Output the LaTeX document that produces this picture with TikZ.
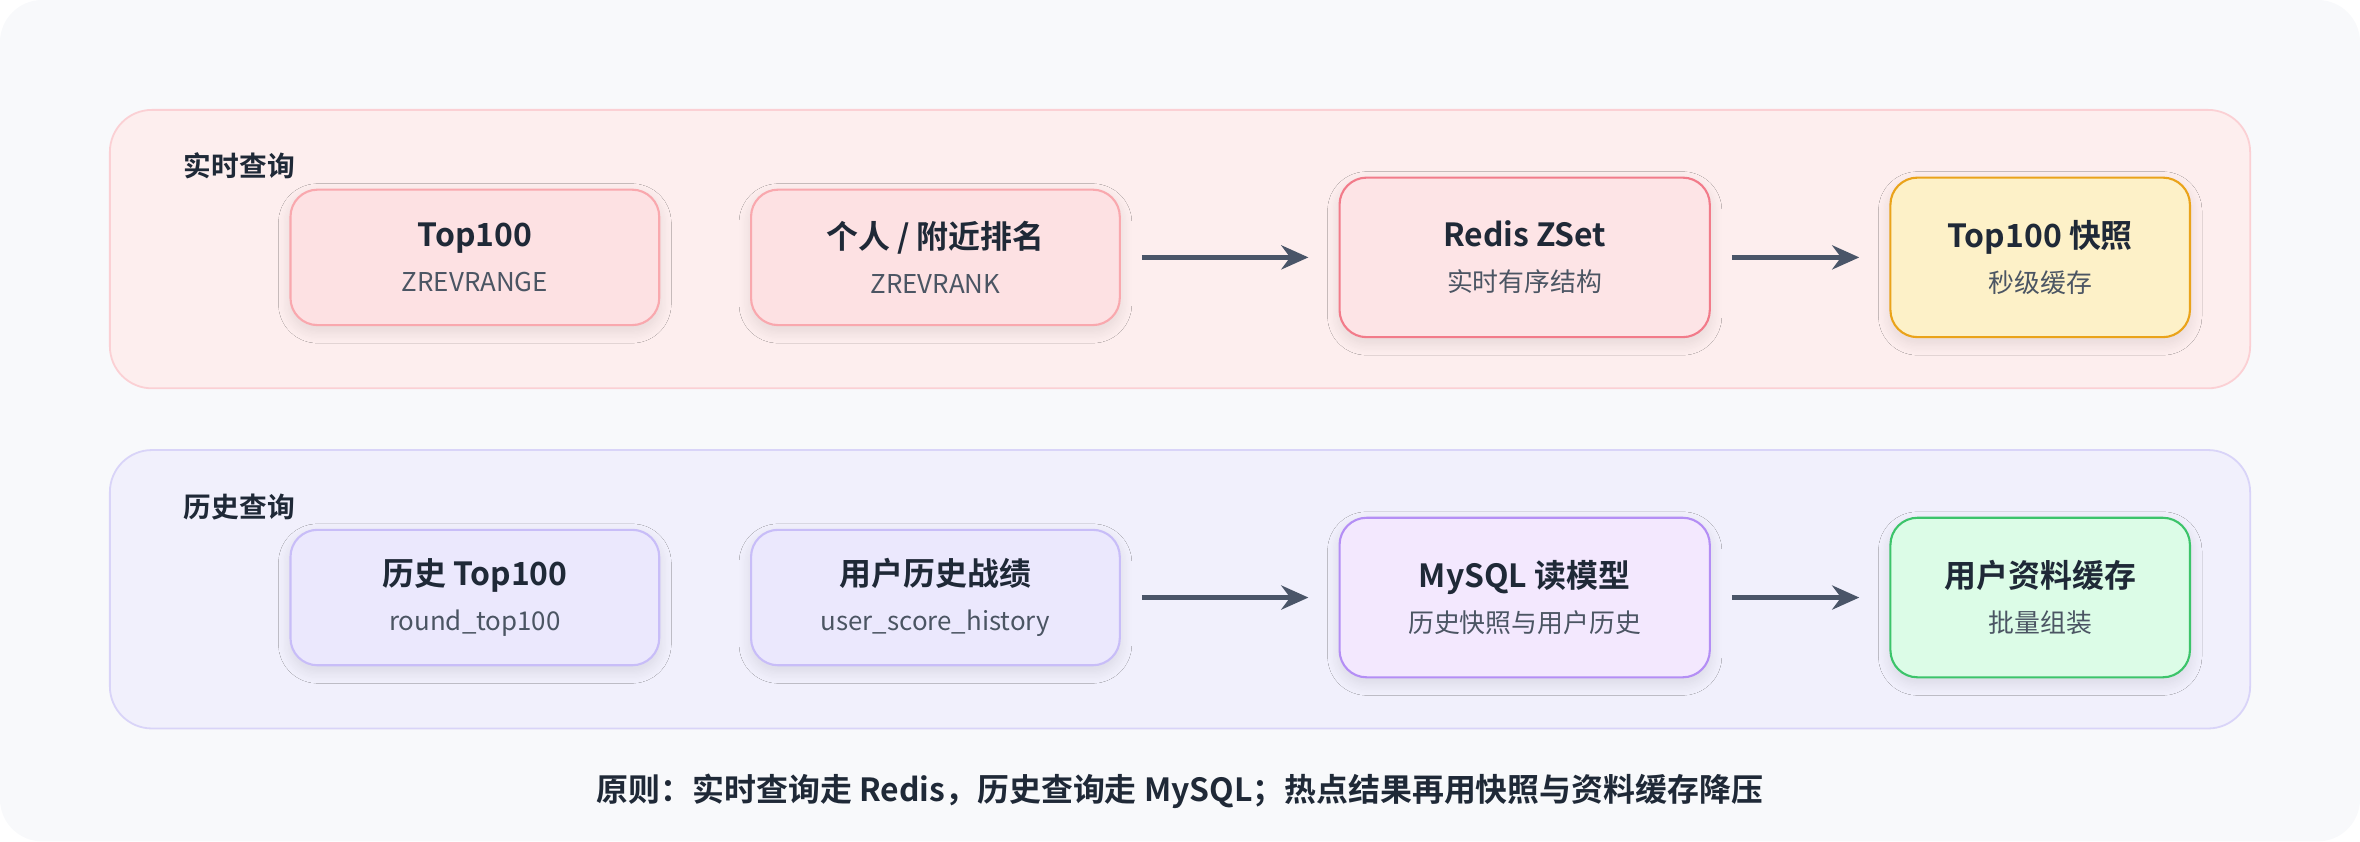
\documentclass[tikz,border=0pt]{standalone}
\usepackage{fontspec}
\setmainfont{Noto Sans CJK SC}[BoldFont={Noto Sans CJK SC Bold}]
\usetikzlibrary{arrows.meta,shadows.blur}
\definecolor{bg}{HTML}{F8F9FB}
\definecolor{txt}{HTML}{1F2937}
\definecolor{sub}{HTML}{4B5563}
\definecolor{arr}{HTML}{4A5568}
\definecolor{p1f}{HTML}{FDEEEE}\definecolor{p1d}{HTML}{FBD0D4}
\definecolor{p2f}{HTML}{F1F0FC}\definecolor{p2d}{HTML}{D9D4F8}
\definecolor{rf}{HTML}{FDE1E3}\definecolor{rd}{HTML}{F9A8AE}
\definecolor{zf}{HTML}{FDE4E6}\definecolor{zd}{HTML}{F27B8A}
\definecolor{yf}{HTML}{FDF1C8}\definecolor{yd}{HTML}{EAA31A}
\definecolor{vf}{HTML}{EBE8FD}\definecolor{vd}{HTML}{C8BDF8}
\definecolor{mf}{HTML}{F3E8FE}\definecolor{md}{HTML}{B48EF5}
\definecolor{gf}{HTML}{DCFCE7}\definecolor{gd}{HTML}{3CC46A}
\tikzset{
 x=0.5pt,y=-0.5pt,
 panel/.style={rounded corners=14pt,line width=0.6pt},
 box/.style={rounded corners=9pt,line width=0.7pt,minimum width=122.5pt,minimum height=45pt,align=center,blur shadow={shadow blur steps=10,shadow blur radius=4pt,shadow xshift=0pt,shadow yshift=-2pt,shadow opacity=10}},
 big/.style={box,minimum width=123pt,minimum height=53pt},
 small/.style={box,minimum width=99.5pt,minimum height=53pt},
 lab/.style={font=\bfseries\fontsize{9.2}{10}\selectfont,text=txt},
 conn/.style={draw=arr,line width=1.5pt,-{Stealth[length=9pt,width=8pt]}},
}
\newcommand{\bt}[2]{{\bfseries\fontsize{10.6}{12}\selectfont\color{txt}#1}\\[3pt]{\fontsize{8.6}{10}\selectfont\color{sub}#2}}
\begin{document}
\begin{tikzpicture}
\fill[bg,rounded corners=14pt] (0,0) rectangle (1568,559);
\draw[panel,fill=p1f,draw=p1d] (73,73) rectangle (1495,258);
\draw[panel,fill=p2f,draw=p2d] (73,299) rectangle (1495,484);
\node[lab] (l1) at (159,110) {实时查询};
\node[lab] (l2) at (159,337) {历史查询};
\node[box,fill=rf,draw=rd] (a1) at (315.5,171) {\bt{Top100}{ZREVRANGE}};
\node[box,fill=rf,draw=rd] (a2) at (621.5,171) {\bt{个人 / 附近排名}{ZREVRANK}};
\node[big,fill=zf,draw=zd] (a3) at (1013,171) {\bt{Redis ZSet}{实时有序结构}};
\node[small,fill=yf,draw=yd] (a4) at (1355.5,171) {\bt{Top100 快照}{秒级缓存}};
\node[box,fill=vf,draw=vd] (b1) at (315.5,397) {\bt{历史 Top100}{round\_top100}};
\node[box,fill=vf,draw=vd] (b2) at (621.5,397) {\bt{用户历史战绩}{user\_score\_history}};
\node[big,fill=mf,draw=md] (b3) at (1013,397) {\bt{MySQL 读模型}{历史快照与用户历史}};
\node[small,fill=gf,draw=gd] (b4) at (1355.5,397) {\bt{用户资料缓存}{批量组装}};
\draw[conn] ([xshift=7pt]a2.east) -- ([xshift=-10pt]a3.west);
\draw[conn] ([xshift=7pt]a3.east) -- ([xshift=-10pt]a4.west);
\draw[conn] ([xshift=7pt]b2.east) -- ([xshift=-10pt]b3.west);
\draw[conn] ([xshift=7pt]b3.east) -- ([xshift=-10pt]b4.west);
\node[font=\bfseries\fontsize{10.6}{12}\selectfont,text=txt] (f) at (784,526) {原则：实时查询走 Redis，历史查询走 MySQL；热点结果再用快照与资料缓存降压};
\end{tikzpicture}
\end{document}
